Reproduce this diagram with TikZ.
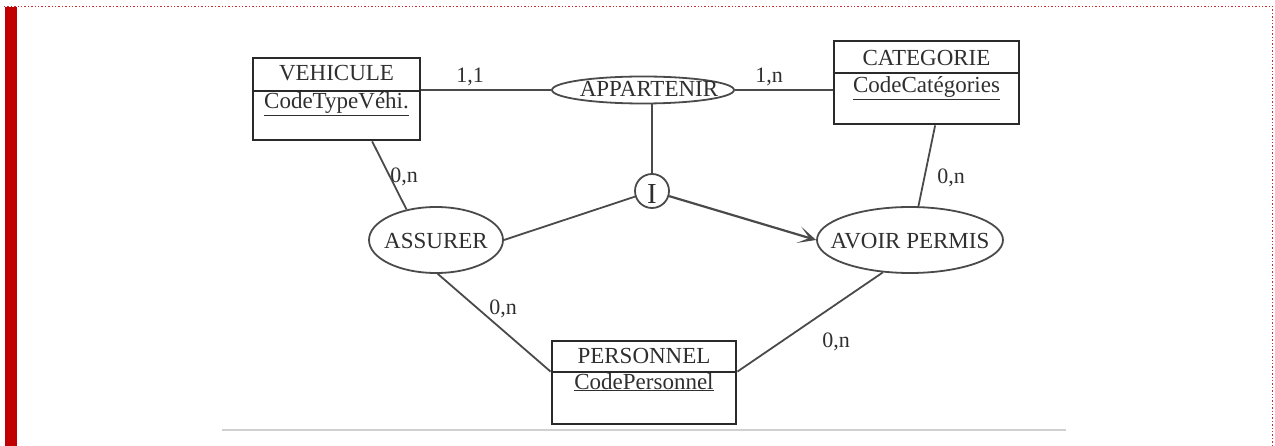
\documentclass[tikz,border=0pt]{standalone}
\usepackage{fontspec}
\setmainfont{Liberation Serif}
\usetikzlibrary{shapes.geometric,arrows.meta,calc}
\definecolor{ink}{HTML}{2F2F2F}
\definecolor{edge}{HTML}{4A4A4A}
\definecolor{boxline}{HTML}{2A2A2A}
\definecolor{barred}{HTML}{C00000}
\definecolor{dotred}{HTML}{C83030}
\definecolor{rule}{HTML}{D0D0D0}
\tikzset{
  ent/.style={draw=boxline, line width=2.8pt, rectangle, inner sep=0pt},
  rel/.style={draw=edge, line width=1.8pt, ellipse, inner sep=0pt},
  txt/.style={text=ink, font=\fontsize{23}{26}\selectfont, inner sep=0pt, anchor=base},
  lab/.style={text=ink, font=\fontsize{22}{24}\selectfont, inner sep=0pt, anchor=base},
  conn/.style={draw=edge, line width=1.8pt},
  arr/.style={draw=edge, line width=2.2pt, -{Stealth[length=18pt,width=17pt,inset=11pt]}},
  divider/.style={draw=boxline, line width=2pt}
}
\begin{document}
\begin{tikzpicture}[x=1pt,y=-1pt]
\useasboundingbox (0,0) rectangle (1275,446);
% page frame
\fill[barred] (5,7) rectangle (17,446);
\draw[dotred, dotted, line width=1.4pt] (4,6.5) -- (1272.7,6.5) -- (1272.7,446);
\draw[rule, line width=2pt] (222,430) -- (1066,430);

% entities
\node[ent, minimum width=167, minimum height=82] (v) at (336.5,99) {};
\node[ent, minimum width=185, minimum height=83] (c) at (926.5,82.5) {};
\node[ent, minimum width=184, minimum height=83] (p) at (644,382.5) {};
\path (v.north west) ++(0,34) coordinate (vdl) (v.north east) ++(0,34) coordinate (vdr);
\path (c.north west) ++(0,33) coordinate (cdl) (c.north east) ++(0,33) coordinate (cdr);
\path (p.north west) ++(0,32) coordinate (pdl) (p.north east) ++(0,32) coordinate (pdr);
\draw[divider] (vdl) -- (vdr);
\draw[divider] (cdl) -- (cdr);
\draw[divider] (pdl) -- (pdr);
\node[txt] (vt) at (336.5,81) {VEHICULE};
\node[txt] (va) at (336.5,109) {\underline{CodeTypeVéhi.}};
\node[txt] (ct) at (926.5,66) {CATEGORIE};
\node[txt] (ca) at (926.5,93) {\underline{CodeCatégories}};
\node[txt] (pt) at (644,363) {PERSONNEL};
\node[txt] (pa) at (644,389) {\underline{CodePersonnel}};

% relations
\node[rel, minimum width=182, minimum height=27] (app) at (643,90) {};
\node[rel, minimum width=134, minimum height=66] (asr) at (436,240) {};
\node[rel, minimum width=186, minimum height=66] (avp) at (910,240) {};
\node[draw=edge, line width=1.8pt, circle, minimum size=34, inner sep=0pt] (ci) at (652,191) {};
\node[txt] (appt) at (649,96.5) {APPARTENIR};
\node[txt] (asrt) at (436,249) {ASSURER};
\node[txt] (avpt) at (910,249) {AVOIR PERMIS};
\node[txt, font=\fontsize{29}{30}\selectfont] (cit) at (652,204) {I};

% connectors
\draw[conn] (app.west) -- (app.west -| v.east);
\draw[conn] (app.east) -- (app.east -| c.west);
\draw[conn] (ci.north) -- (ci.north |- app.south);
\draw[conn] ($(v.south west)!0.71!(v.south east)$) -- (asr.134);
\draw[conn] (asr.-87) -- (pdl);
\draw[conn] (asr.east) -- (ci);
\draw[arr] (ci) -- (avp.west);
\draw[conn] ($(c.south west)!0.546!(c.south east)$) -- (avp.76);
\draw[conn] (avp.-130) -- (pdr);

% cardinalities
\node[lab] (l1) at (470,82.5) {1,1};
\node[lab] (l2) at (769,82.5) {1,n};
\node[lab] (l3) at (404,183) {0,n};
\node[lab] (l4) at (951,183.5) {0,n};
\node[lab] (l5) at (503,315) {0,n};
\node[lab] (l6) at (836,347.5) {0,n};
\end{tikzpicture}
\end{document}
